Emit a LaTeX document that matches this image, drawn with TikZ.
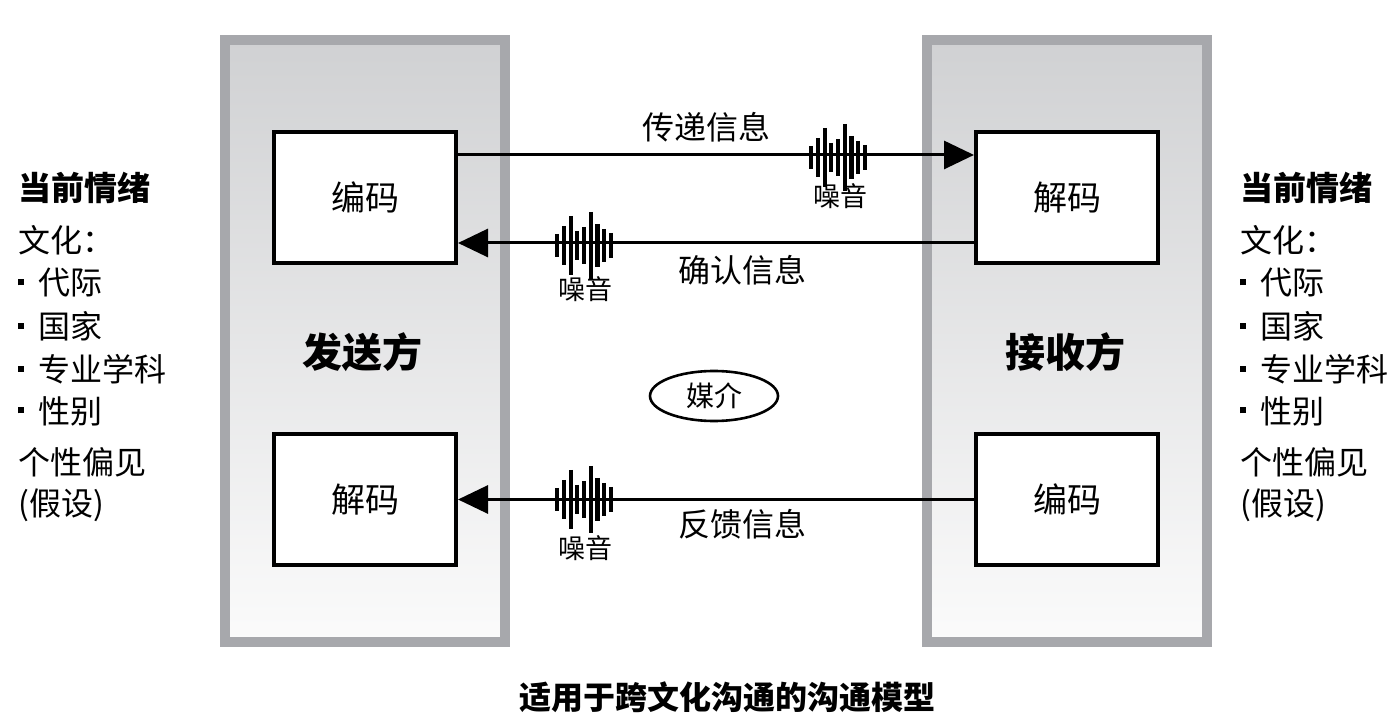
\documentclass[tikz,border=0pt]{standalone}
\usepackage{fontspec}
\setmainfont{Noto Sans CJK SC}
\usepackage{xcolor}
\usepackage{tikz}
\usetikzlibrary{arrows.meta,positioning,shapes.geometric,calc}
\definecolor{panelrim}{RGB}{167,168,172}
\definecolor{paneltop}{RGB}{208,209,211}
\definecolor{panelbot}{RGB}{251,251,251}
\newcommand{\sqbul}{\rule[0.3em]{3pt}{3pt}\hspace{7pt}}
\tikzset{
  panel/.style={draw=panelrim,line width=5pt,top color=paneltop,bottom color=panelbot,
                minimum width=140pt,minimum height=301pt,inner sep=0pt},
  codebox/.style={draw,line width=2pt,fill=white,minimum width=91pt,minimum height=65.5pt,
                  font=\fontsize{17}{20}\selectfont},
  msg/.style={line width=1.5pt,-{Triangle[length=15pt,width=14pt]}},
  sidetxt/.style={anchor=west,inner sep=0pt,font=\fontsize{16}{19}\selectfont},
  msgtxt/.style={font=\fontsize{16}{19}\selectfont},
  noisetxt/.style={font=\fontsize{13.5}{16}\selectfont},
  noise/.pic={
    \foreach \h [count=\i] in {11,19,29,14,18,33,21,16,12}
      \draw[line width=2.1pt] ({(\i-5)*6.7},{-\h+2}) -- ({(\i-5)*6.7},{\h+3});
  }
}
\begin{document}
\begin{tikzpicture}[x=0.5pt,y=-0.5pt]
  \useasboundingbox (0,0) rectangle (1398,721);
  % the two parties
  \node[panel] (sendP) at (365,341) {};
  \node[panel] (recvP) at (1067,341) {};
  \node[font=\fontsize{20}{24}\selectfont\bfseries] (sendT) at (362,352) {发送方};
  \node[font=\fontsize{20}{24}\selectfont\bfseries] (recvT) at (1065,352) {接收方};
  \node[codebox] (encL) at (365,197.5) {编码};
  \node[codebox] (decL) at (365,499.5) {解码};
  \node[codebox] (decR) at (1067,197.5) {解码};
  \node[codebox] (encR) at (1067,499.5) {编码};
  % messages
  \coordinate (m1) at ($(encL.north east)!0.185!(encL.south east)$);
  \coordinate (m2) at ($(decR.north west)!0.837!(decR.south west)$);
  \draw[msg] (m1) -- (m1 -| decR.west);
  \draw[msg] (m2) -- (m2 -| encL.east);
  \draw[msg] (encR.west) -- (decL.east);
  \pic at (838,155) {noise};
  \pic at (584,243) {noise};
  \pic at (584,497) {noise};
  \node[msgtxt] (t1) at (706,127) {传递信息};
  \node[msgtxt] (t2) at (742,270) {确认信息};
  \node[msgtxt] (t3) at (742,524) {反馈信息};
  \node[noisetxt] (n1) at (840,196) {噪音};
  \node[noisetxt] (n2) at (585,289) {噪音};
  \node[noisetxt] (n3) at (585,548) {噪音};
  \node[draw,ellipse,line width=1.3pt,minimum width=64pt,minimum height=25pt,inner sep=0pt,
        font=\fontsize{14}{16}\selectfont] (medium) at (714,396) {媒介};
  % sender side notes
  \node[sidetxt,font=\fontsize{16.5}{19}\selectfont\bfseries] (lhead) at (18,188) {当前情绪};
  \node[sidetxt] (lcult) at (18,240) {文化：};
  \node[sidetxt] (lgen) at (18,283) {\sqbul 代际};
  \node[sidetxt] (lnat) at (18,326) {\sqbul 国家};
  \node[sidetxt] (ldis) at (18,369) {\sqbul 专业学科};
  \node[sidetxt] (lsex) at (18,411) {\sqbul 性别};
  \node[sidetxt] (lbias) at (18,462) {个性偏见};
  \node[sidetxt] (lass) at (18,505) {(假设)};
  % receiver side notes
  \node[sidetxt,font=\fontsize{16.5}{19}\selectfont\bfseries] (rhead) at (1240,188) {当前情绪};
  \node[sidetxt] (rcult) at (1240,240) {文化：};
  \node[sidetxt] (rgen) at (1240,283) {\sqbul 代际};
  \node[sidetxt] (rnat) at (1240,326) {\sqbul 国家};
  \node[sidetxt] (rdis) at (1240,369) {\sqbul 专业学科};
  \node[sidetxt] (rsex) at (1240,411) {\sqbul 性别};
  \node[sidetxt] (rbias) at (1240,462) {个性偏见};
  \node[sidetxt] (rass) at (1240,505) {(假设)};
  \node[font=\fontsize{16}{19}\selectfont\bfseries] (caption) at (727,697) {适用于跨文化沟通的沟通模型};
\end{tikzpicture}
\end{document}
